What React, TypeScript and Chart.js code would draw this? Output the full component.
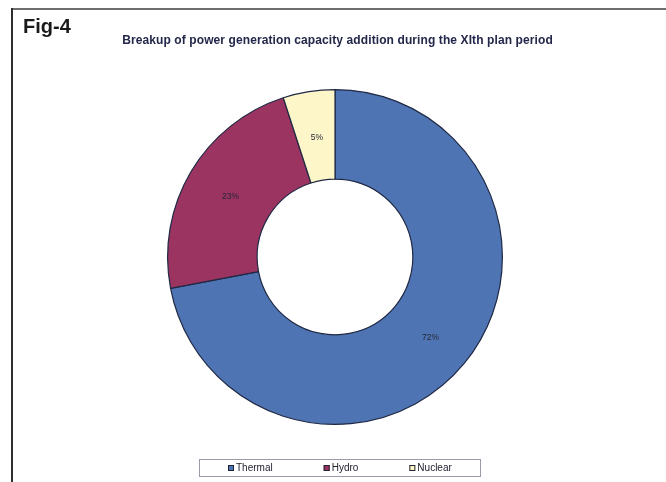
import React, { useEffect, useRef } from "react";
import { Chart, registerables } from "chart.js";

Chart.register(...registerables);

const categories: string[] = ["Thermal", "Hydro", "Nuclear"];
const shares: number[] = [72, 23, 5];
const sliceColors: string[] = ["#4F74B3", "#9C3462", "#FDF6C8"];
const chartTitle = "Breakup of power generation capacity addition during the XIth plan period";
const figureLabel = "Fig-4";

// Percent labels drawn at the middle of each ring segment.
const sliceLabels = {
  id: "sliceLabels",
  afterDatasetsDraw(chart: any) {
    const { ctx } = chart;
    const meta = chart.getDatasetMeta(0);
    const values = chart.data.datasets[0].data as number[];
    const total = values.reduce((a, b) => a + b, 0);
    ctx.save();
    ctx.font = "8.5px 'Liberation Sans', Arial, sans-serif";
    ctx.fillStyle = "#262638";
    ctx.textAlign = "center";
    ctx.textBaseline = "middle";
    meta.data.forEach((arc: any, i: number) => {
      const p = arc.tooltipPosition();
      ctx.fillText(Math.round((values[i] / total) * 100) + "%", p.x + 1, p.y + 2);
    });
    ctx.restore();
  },
};

// Boxed horizontal legend below the ring.
const boxedLegend = {
  id: "boxedLegend",
  afterDraw(chart: any) {
    const { ctx } = chart;
    const ds = chart.data.datasets[0];
    const labels = chart.data.labels as string[];
    const boxX = 199, boxY = 459, boxW = 281, boxH = 17;
    const swatch = 6, textGap = 2, itemGap = 51;
    ctx.save();
    ctx.fillStyle = "#ffffff";
    ctx.fillRect(boxX, boxY, boxW, boxH);
    ctx.strokeStyle = "#9a9aa8";
    ctx.lineWidth = 1;
    ctx.strokeRect(boxX + 0.5, boxY + 0.5, boxW, boxH);
    ctx.font = "10px 'Liberation Sans', Arial, sans-serif";
    ctx.textBaseline = "middle";
    ctx.textAlign = "left";
    const cy = boxY + boxH / 2 + 0.5;
    let x = 228;
    labels.forEach((label, i) => {
      ctx.fillStyle = ds.backgroundColor[i];
      ctx.fillRect(x, cy - swatch / 2, swatch, swatch);
      ctx.strokeStyle = "#222233";
      ctx.strokeRect(x + 0.5, cy - swatch / 2 + 0.5, swatch - 1, swatch - 1);
      ctx.fillStyle = "#222233";
      ctx.fillText(label, x + swatch + textGap, cy);
      x += swatch + textGap + ctx.measureText(label).width + itemGap;
    });
    ctx.restore();
  },
};

export default function App() {
  const canvasRef = useRef<HTMLCanvasElement | null>(null);

  useEffect(() => {
    if (!canvasRef.current) return;
    const chart = new Chart(canvasRef.current, {
      type: "doughnut",
      data: {
        labels: categories,
        datasets: [
          {
            data: shares,
            backgroundColor: sliceColors,
            borderColor: "#1f2944",
            borderWidth: 1.2,
          },
        ],
      },
      options: {
        responsive: false,
        animation: false,
        cutout: "46.5%",
        layout: { padding: { top: 89, left: 12, right: 8, bottom: 57 } },
        plugins: {
          legend: { display: false },
          tooltip: { enabled: false },
          title: { display: false },
        },
      },
      plugins: [sliceLabels, boxedLegend],
    });
    return () => chart.destroy();
  }, []);

  const font = "'Liberation Sans', Arial, sans-serif";

  return (
    <div
      style={{
        position: "fixed",
        left: 0,
        top: 0,
        width: 666,
        height: 482,
        background: "#ffffff",
        overflow: "hidden",
      }}
    >
      <canvas ref={canvasRef} width={666} height={482} style={{ position: "absolute", left: 0, top: 0 }} />
      <div style={{ position: "absolute", left: 11, top: 8, width: 655, height: 2, background: "#6e6e6e" }} />
      <div style={{ position: "absolute", left: 11, top: 8, width: 2, height: 474, background: "#2e2e2e" }} />
      <div
        style={{
          position: "absolute",
          left: 23,
          top: 16,
          fontFamily: font,
          fontWeight: "bold",
          fontSize: 20,
          lineHeight: "20px",
          color: "#1a1a1a",
        }}
      >
        {figureLabel}
      </div>
      <div
        style={{
          position: "absolute",
          left: 0,
          width: 675,
          top: 34,
          textAlign: "center",
          fontFamily: font,
          fontWeight: "bold",
          fontSize: 12,
          lineHeight: "13px",
          letterSpacing: "0.1px",
          whiteSpace: "nowrap",
          color: "#23274a",
        }}
      >
        {chartTitle}
      </div>
    </div>
  );
}
